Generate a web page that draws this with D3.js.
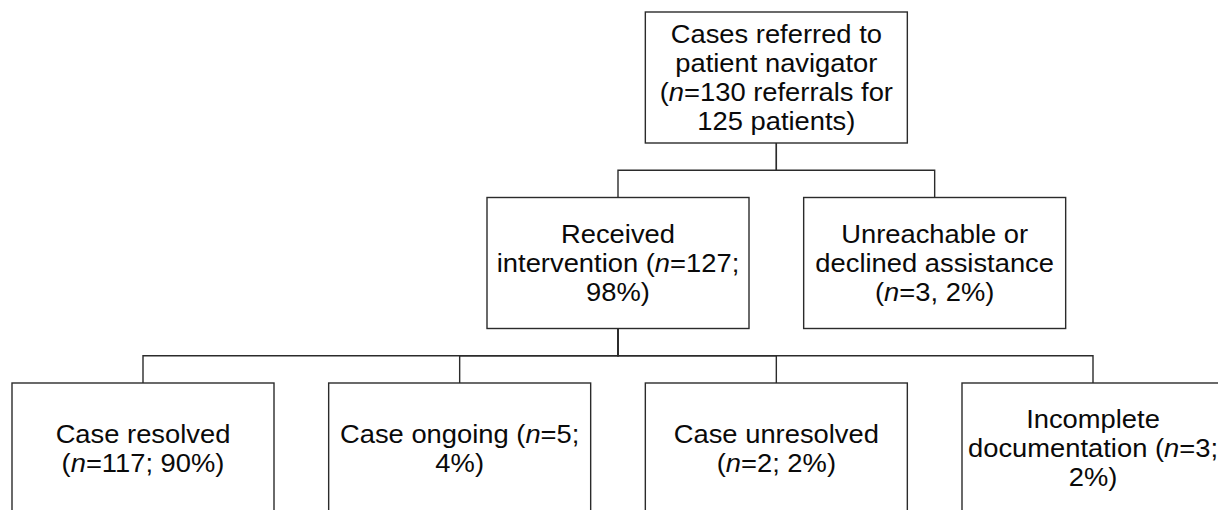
<!DOCTYPE html>
<html>
<head>
<meta charset="utf-8">
<script src="https://cdn.jsdelivr.net/npm/d3@7"></script>
<style>
  html, body { margin: 0; padding: 0; background: #fff; overflow: hidden; }
  svg { display: block; }
</style>
</head>
<body>
<svg id="chart" width="1218" height="510"></svg>
<script>
// ---- data ----
const nodeIds = ["root", "received", "unreachable", "resolved", "ongoing", "unresolved", "incomplete"];
const nodeParents = [null, "root", "root", "received", "received", "received", "received"];
const nodeLabels = [
  ["Cases referred to", "patient navigator", "(*n*=130 referrals for", "125 patients)"],
  ["Received", "intervention (*n*=127;", "98%)"],
  ["Unreachable or", "declined assistance", "(*n*=3, 2%)"],
  ["Case resolved", "(*n*=117; 90%)"],
  ["Case ongoing (*n*=5;", "4%)"],
  ["Case unresolved", "(*n*=2; 2%)"],
  ["Incomplete", "documentation (*n*=3;", "2%)"]
];
const nodeCounts = [130, 127, 3, 117, 5, 2, 3];
const nodeLevels = [0, 1, 1, 2, 2, 2, 2];
const nodeColumns = [4, 3, 5, 0, 2, 4, 6];

// ---- layout ----
const svg = d3.select("#chart");
const boxW = 262, boxH = 131;
const x = d3.scaleLinear().domain([0, 6]).range([143, 1093]);
const y = d3.scaleLinear().domain([0, 2]).range([12, 383]);
const lineH = 29, capHalf = 8.8, sx = 1.06;
const stroke = "#2b2b2b";

const nodes = nodeIds.map((id, i) => ({
  id, parent: nodeParents[i], label: nodeLabels[i], n: nodeCounts[i],
  cx: x(nodeColumns[i]), top: y(nodeLevels[i])
}));
const byId = new Map(nodes.map(d => [d.id, d]));

// connectors (elbows)
const gLinks = svg.append("g").attr("fill", "none").attr("stroke", stroke).attr("stroke-width", 1.4);
nodes.filter(d => d.parent).forEach(d => {
  const p = byId.get(d.parent);
  const pb = p.top + boxH;
  const midY = (pb + d.top) / 2;
  const path = d3.path();
  path.moveTo(p.cx, pb); path.lineTo(p.cx, midY);
  path.lineTo(d.cx, midY); path.lineTo(d.cx, d.top);
  gLinks.append("path").attr("d", path.toString());
});

// boxes
const gNodes = svg.selectAll("g.node").data(nodes).join("g").attr("class", "node");
gNodes.append("rect")
  .attr("x", d => d.cx - boxW / 2).attr("y", d => d.top)
  .attr("width", boxW).attr("height", boxH)
  .attr("fill", "#fff").attr("stroke", stroke).attr("stroke-width", 1.4);

gNodes.each(function(d) {
  const g = d3.select(this);
  const cy = d.top + boxH / 2;
  const nL = d.label.length;
  d.label.forEach((line, i) => {
    const base = cy + (i - (nL - 1) / 2) * lineH + capHalf;
    const t = g.append("text")
      .attr("transform", `translate(${d.cx},${base}) scale(${sx},1)`)
      .attr("text-anchor", "middle")
      .attr("font-family", "'Liberation Sans', Arial, Helvetica, sans-serif")
      .attr("font-size", 25.8)
      .attr("fill", "#0a0a0a");
    const parts = line.split("*n*");
    parts.forEach((part, k) => {
      if (k > 0) t.append("tspan").attr("font-style", "italic").text("n");
      if (part) t.append("tspan").text(part);
    });
  });
});
</script>
</body>
</html>
